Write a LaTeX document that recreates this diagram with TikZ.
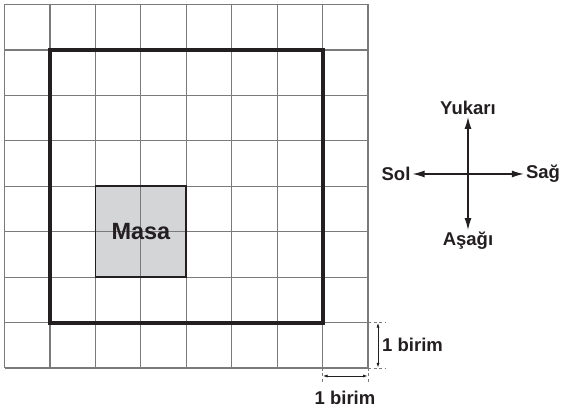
\documentclass[tikz,border=0pt]{standalone}
\usepackage{fontspec}
\setmainfont{Liberation Sans}
\usepackage{tikz}
\usetikzlibrary{arrows.meta, positioning}
\usetikzlibrary{calc}
\usepackage{xcolor}

\definecolor{gridgray}{HTML}{7A7A7A}
\definecolor{tablefill}{HTML}{D4D5D7}
\definecolor{inkdark}{HTML}{231F20}

\begin{document}
\begin{tikzpicture}[
    x=1pt, y=-1pt,
    >=Latex,
    gridline/.style={draw=gridgray, line width=1.2pt},
    roomwall/.style={draw=inkdark, line width=4pt, line join=miter},
    lbl/.style={font=\bfseries\fontsize{18.5}{22}\selectfont, text=inkdark, inner sep=2pt},
    compass/.style={draw=inkdark, line width=1.2pt, -{Latex[length=12pt, width=7pt]}},
    dimline/.style={draw=inkdark, line width=0.9pt, {Latex[length=5pt, width=3pt]}-{Latex[length=5pt, width=3pt]}},
    dimtick/.style={draw=gridgray, line width=0.9pt, dash pattern=on 3pt off 2.5pt}
]
\useasboundingbox (0,0) rectangle (563,411);

% Table fill
\fill[tablefill] (95.4,186.3) rectangle (186.3,277.2);

% Grid
\foreach \i in {0,...,8} {
    \draw[gridline] ({4.5+\i*45.44},4.5) -- ({4.5+\i*45.44},368);
    \draw[gridline] (4.5,{4.5+\i*45.44}) -- (368,{4.5+\i*45.44});
}

% Room and table
\draw[roomwall] (49.9,49.9) rectangle (322.6,322.6);
\draw[draw=inkdark, line width=1.8pt] (95.4,186.3) rectangle (186.3,277.2);
\node[font=\bfseries\fontsize{23.5}{27}\selectfont, text=inkdark] (masa) at (140.9,231.7) {Masa};

% Compass
\coordinate (C) at (468,174);
\node[lbl] (up) at (468,108) {Yukarı};
\node[lbl] (down) at (468,241) {Aşağı};
\node[lbl] (left) at (396,174) {Sol};
\node[lbl] (right) at (543,174) {Sağ};

\draw[compass] (C) -- (up);
\draw[compass] (C) -- (down);
\draw[compass] (C) -- (left);
\draw[compass] (C) -- (right);

% Unit marks
\coordinate (v1) at (386,322.6);
\coordinate (v2) at (386,368);
\coordinate (h1) at (322.6,384);
\coordinate (h2) at (368,384);
\draw[dimtick] (368,322.6) -- (v1);
\draw[dimtick] (368,368) -- (v2);
\draw[dimtick] (322.6,368) -- (h1);
\draw[dimtick] (368,368) -- (h2);

\coordinate (va) at (378,322.6);
\coordinate (vb) at (378,368);
\coordinate (ha) at (322.6,376);
\coordinate (hb) at (368,376);
\draw[dimline] (va) -- (vb);
\draw[dimline] (ha) -- (hb);

\node[lbl, right=2pt of $(va)!0.5!(vb)$] (unitv) {1 birim};
\node[lbl] (unith) at (345,398) {1 birim};

\end{tikzpicture}
\end{document}
